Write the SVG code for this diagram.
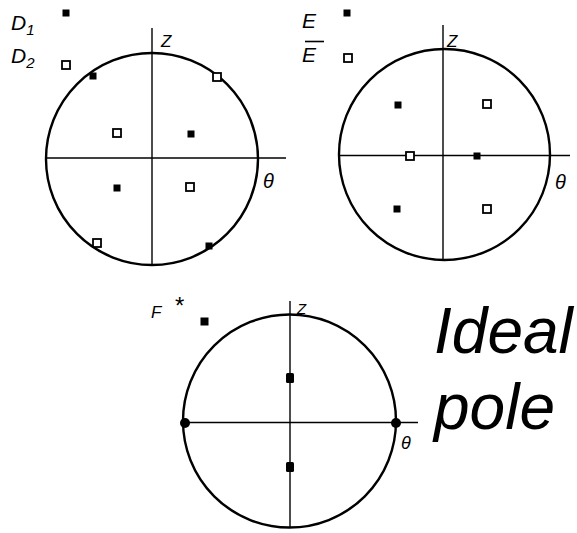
<svg xmlns="http://www.w3.org/2000/svg" width="577" height="533" viewBox="0 0 577 533">
<style>
.c{fill:none;stroke:#000;stroke-width:2.4}
.ax{stroke:#000;stroke-width:1.4;fill:none}
.f{fill:#000}
.o{fill:#fff;stroke:#000;stroke-width:1.8}
.lb{font-family:"Liberation Sans",Arial,sans-serif;font-style:italic;fill:#000}
.big{font-family:"Liberation Sans",Arial,sans-serif;font-style:italic;font-size:64px;fill:#000}
</style>
<rect width="577" height="533" fill="#fff"/>
<g id="connectors">
<line class="ax" x1="152" y1="28" x2="152" y2="265"/>
<line class="ax" x1="46" y1="158" x2="286" y2="158"/>
<line class="ax" x1="443" y1="25" x2="443" y2="259"/>
<line class="ax" x1="339" y1="155.5" x2="570" y2="155.5"/>
<line class="ax" x1="290" y1="301" x2="290" y2="528"/>
<line class="ax" x1="183" y1="422.5" x2="418" y2="422.5"/>
</g>
<g id="diagramD">
<circle class="c" cx="152" cy="159" r="106"/>
<text class="lb" x="11" y="30" font-size="21">D<tspan font-size="15" dy="5">1</tspan></text>
<text class="lb" x="11" y="63" font-size="21">D<tspan font-size="15" dy="5">2</tspan></text>
<text class="lb" x="161" y="47" font-size="17">Z</text>
<text class="lb" x="263" y="188" font-size="20">θ</text>
<rect class="f" x="62.5" y="9.5" width="7" height="7"/>
<rect class="o" x="62" y="61" width="8" height="8"/>
<rect class="f" x="89.5" y="72.5" width="7" height="7"/>
<rect class="o" x="213" y="73" width="8" height="8"/>
<rect class="o" x="113" y="129" width="8" height="8"/>
<rect class="f" x="187.5" y="130.5" width="7" height="7"/>
<rect class="f" x="113.5" y="184.5" width="7" height="7"/>
<rect class="o" x="186" y="183" width="8" height="8"/>
<rect class="o" x="93" y="239" width="8" height="8"/>
<rect class="f" x="205.5" y="242.5" width="7" height="7"/>
</g>
<g id="diagramE">
<circle class="c" cx="444.5" cy="154.5" r="105.5"/>
<text class="lb" x="302" y="28" font-size="21">E</text>
<text class="lb" x="302" y="62" font-size="21">E</text>
<line x1="305" y1="41.5" x2="324" y2="41.5" stroke="#000" stroke-width="1.6"/>
<text class="lb" x="447" y="47" font-size="17">Z</text>
<text class="lb" x="555" y="189" font-size="20">θ</text>
<rect class="f" x="343.5" y="9.5" width="7" height="7"/>
<rect class="o" x="344" y="54" width="8" height="8"/>
<rect class="f" x="394.5" y="101.5" width="7" height="7"/>
<rect class="o" x="483" y="100" width="8" height="8"/>
<rect class="o" x="406" y="152" width="8" height="8"/>
<rect class="f" x="473.5" y="152.5" width="7" height="7"/>
<rect class="f" x="393.5" y="205.5" width="7" height="7"/>
<rect class="o" x="483" y="205" width="8" height="8"/>
</g>
<g id="diagramF">
<circle class="c" cx="289.5" cy="421" r="106.5"/>
<text class="lb" x="151" y="318" font-size="17">F</text>
<text x="175" y="314" font-family="Liberation Sans,Arial,sans-serif" font-size="24">*</text>
<text class="lb" x="297" y="314" font-size="15">Z</text>
<text class="lb" x="401" y="449" font-size="18">θ</text>
<rect class="f" x="200.5" y="317.5" width="8" height="8"/>
<rect class="f" x="286" y="373" width="8" height="10" rx="1.5"/>
<rect class="f" x="286" y="462" width="8" height="10" rx="1.5"/>
<circle class="f" cx="185" cy="423" r="5"/>
<circle class="f" cx="396" cy="423" r="5"/>
</g>
<g id="caption">
<text class="big" x="434" y="353">Ideal</text>
<text class="big" x="434" y="429">pole</text>
</g>
</svg>
